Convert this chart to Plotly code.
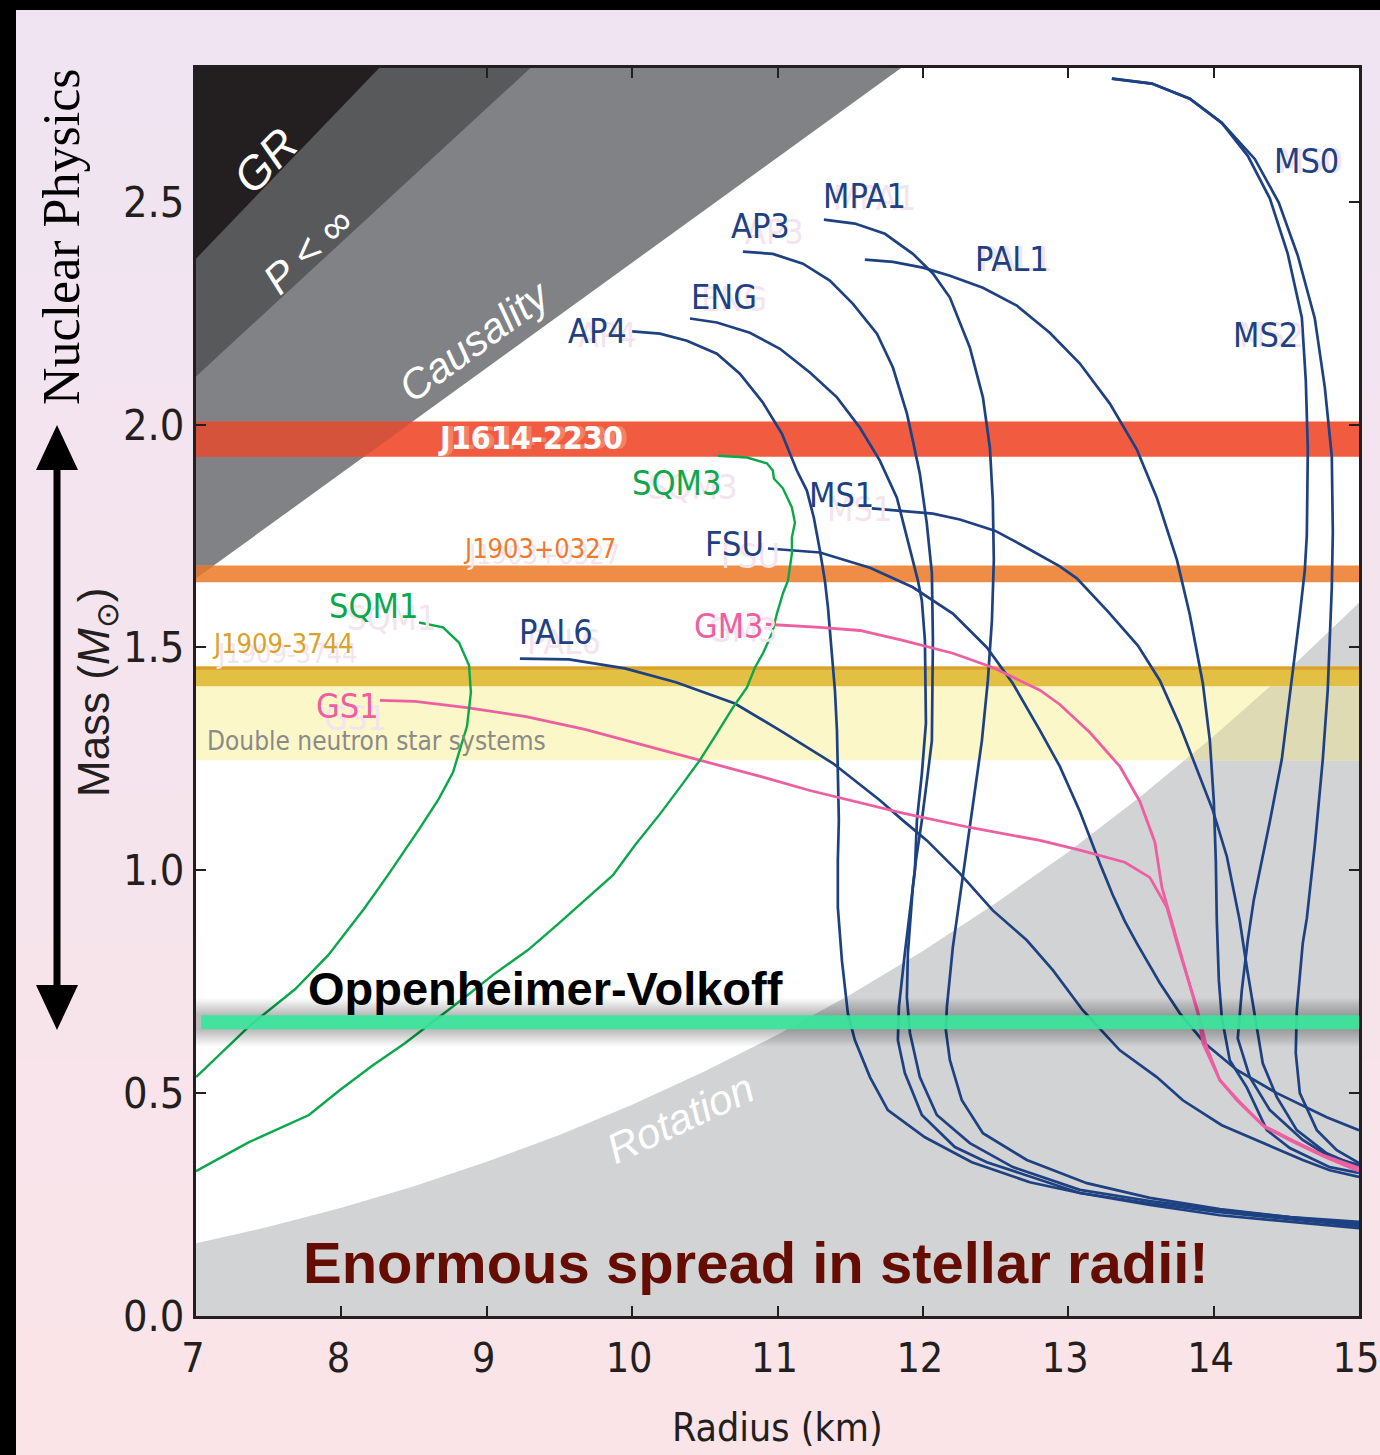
import numpy as np
import plotly.graph_objects as go

# ---------------------------------------------------------------------------
# Mass-radius relations: radius in km, gravitational mass in solar masses
# ---------------------------------------------------------------------------
AP4_R = [9.999, 10.191, 10.377, 10.583, 10.741, 10.900, 11.030, 11.133, 11.202, 11.250, 11.292,
         11.326, 11.347, 11.374, 11.395, 11.409, 11.415, 11.422, 11.415, 11.415, 11.443, 11.484,
         11.532, 11.636, 11.759, 12.014, 12.337, 12.736, 13.080, 13.561, 14.043, 14.524, 15.0]
AP4_M = [2.209, 2.204, 2.188, 2.159, 2.114, 2.049, 1.980, 1.897, 1.852, 1.791, 1.717,
         1.650, 1.590, 1.493, 1.404, 1.314, 1.217, 1.112, 1.022, 0.917, 0.798, 0.679,
         0.619, 0.536, 0.462, 0.401, 0.345, 0.300, 0.276, 0.249, 0.226, 0.211, 0.197]

ENG_R = [10.398, 10.583, 10.810, 11.017, 11.223, 11.409, 11.567, 11.704, 11.821, 11.911, 11.966,
         11.993, 12.014, 12.021, 11.993, 11.959, 11.945, 11.876, 11.835, 11.828, 11.876, 11.993,
         12.220, 12.440, 13.080, 13.561, 14.043, 14.524, 15.0]
ENG_M = [2.238, 2.229, 2.206, 2.170, 2.117, 2.061, 1.993, 1.919, 1.836, 1.724, 1.650,
         1.605, 1.516, 1.330, 1.217, 1.112, 1.000, 0.814, 0.693, 0.619, 0.545, 0.451,
         0.379, 0.345, 0.276, 0.253, 0.233, 0.217, 0.202]

AP3_R = [10.762, 10.968, 11.175, 11.360, 11.519, 11.684, 11.794, 11.890, 11.931, 11.979, 12.027,
         12.062, 12.069, 12.062, 12.034, 11.993, 11.952, 11.931, 11.897, 11.890, 11.911, 11.979,
         12.096, 12.323, 12.619, 13.080, 13.561, 14.043, 14.524, 15.0]
AP3_M = [2.388, 2.383, 2.361, 2.323, 2.271, 2.204, 2.128, 2.025, 1.964, 1.890, 1.778,
         1.666, 1.516, 1.291, 1.217, 1.112, 1.022, 0.962, 0.814, 0.715, 0.635, 0.536,
         0.451, 0.388, 0.334, 0.283, 0.258, 0.238, 0.222, 0.206]

MPA1_R = [11.319, 11.532, 11.739, 11.931, 12.069, 12.186, 12.323, 12.413, 12.461, 12.481, 12.488,
          12.475, 12.447, 12.406, 12.358, 12.309, 12.254, 12.206, 12.165, 12.158, 12.186, 12.268,
          12.413, 12.715, 13.128, 13.561, 14.043, 14.524, 15.0]
MPA1_M = [2.460, 2.451, 2.428, 2.383, 2.339, 2.285, 2.173, 2.061, 1.948, 1.830, 1.695,
          1.561, 1.426, 1.291, 1.179, 1.067, 0.944, 0.827, 0.693, 0.641, 0.574, 0.484,
          0.410, 0.350, 0.298, 0.265, 0.240, 0.222, 0.211]

PAL1_R = [11.601, 11.794, 12.000, 12.186, 12.413, 12.646, 12.873, 13.080, 13.286, 13.472, 13.609,
          13.747, 13.836, 13.926, 13.974, 14.001, 14.015, 14.022, 14.036, 14.056, 14.111, 14.228,
          14.366, 14.524, 14.799, 15.0]
PAL1_M = [2.370, 2.365, 2.352, 2.334, 2.307, 2.267, 2.206, 2.137, 2.047, 1.944, 1.836,
          1.697, 1.574, 1.419, 1.291, 1.157, 1.022, 0.886, 0.753, 0.670, 0.574, 0.513,
          0.417, 0.377, 0.334, 0.321]

MS1_R = [11.649, 11.842, 12.069, 12.254, 12.495, 12.701, 12.942, 13.059, 13.272, 13.479, 13.630,
         13.768, 13.905, 13.994, 14.091, 14.180, 14.228, 14.297, 14.338, 14.435, 14.572, 14.778, 15.0]
MS1_M = [1.812, 1.807, 1.800, 1.787, 1.762, 1.726, 1.682, 1.655, 1.581, 1.504, 1.426,
         1.325, 1.209, 1.135, 1.031, 0.886, 0.783, 0.648, 0.567, 0.491, 0.417, 0.365, 0.334]

FSU_R = [10.934, 11.292, 11.636, 11.931, 12.206, 12.440, 12.619, 12.805, 12.942, 13.080, 13.217,
         13.307, 13.389, 13.472, 13.630, 13.768, 13.939, 14.160, 14.435, 14.778, 15.0]
FSU_M = [1.722, 1.713, 1.679, 1.635, 1.576, 1.500, 1.419, 1.314, 1.233, 1.132, 1.016,
         0.944, 0.886, 0.836, 0.747, 0.679, 0.612, 0.552, 0.500, 0.446, 0.417]

MS0_R = [13.300, 13.575, 13.836, 14.056, 14.283, 14.448, 14.579, 14.696, 14.765, 14.813, 14.820,
         14.813, 14.785, 14.751, 14.696, 14.641, 14.613, 14.572, 14.565, 14.593, 14.710, 14.847, 15.0]
MS0_M = [2.776, 2.765, 2.731, 2.677, 2.596, 2.498, 2.379, 2.238, 2.083, 1.928, 1.758,
         1.635, 1.404, 1.249, 1.056, 0.892, 0.836, 0.686, 0.590, 0.500, 0.417, 0.372, 0.343]

MS2_R = [13.300, 13.575, 13.836, 14.056, 14.235, 14.387, 14.510, 14.607, 14.634, 14.648, 14.641,
         14.627, 14.593, 14.545, 14.469, 14.387, 14.304, 14.276, 14.235, 14.194, 14.166, 14.249,
         14.387, 14.613, 14.799, 15.0]
MS2_M = [2.776, 2.765, 2.731, 2.677, 2.603, 2.507, 2.383, 2.240, 2.099, 1.944, 1.751,
         1.673, 1.574, 1.448, 1.249, 1.110, 0.978, 0.933, 0.843, 0.731, 0.623, 0.536,
         0.462, 0.395, 0.357, 0.339]

PAL6_R = [9.228, 9.565, 9.950, 10.301, 10.707, 11.017, 11.381, 11.704, 11.862, 12.027, 12.254,
          12.481, 12.715, 12.894, 13.100, 13.355, 13.609, 13.788, 14.056, 14.338, 14.613, 14.799, 15.0]
PAL6_M = [1.475, 1.473, 1.453, 1.422, 1.374, 1.314, 1.240, 1.157, 1.112, 1.067, 0.993,
          0.910, 0.843, 0.776, 0.686, 0.596, 0.536, 0.484, 0.428, 0.388, 0.350, 0.327, 0.312]

GM3_R = [10.920, 11.292, 11.567, 11.862, 12.206, 12.481, 12.805, 12.942, 13.149, 13.355, 13.492,
         13.596, 13.644, 13.699, 13.768, 13.836, 13.891, 13.926, 14.043, 14.160, 14.338, 14.524,
         14.751, 15.0]
GM3_M = [1.552, 1.545, 1.538, 1.516, 1.487, 1.455, 1.404, 1.372, 1.309, 1.233, 1.155,
         1.063, 0.962, 0.899, 0.821, 0.742, 0.679, 0.612, 0.529, 0.484, 0.428, 0.397,
         0.361, 0.332]

GS1_R = [8.265, 8.506, 8.864, 9.270, 9.675, 10.088, 10.494, 10.900, 11.223, 11.498, 11.862,
         12.323, 12.805, 13.080, 13.389, 13.561, 13.678, 13.768, 13.884, 13.953, 14.043, 14.180,
         14.352, 14.538, 14.765, 15.0]
GS1_M = [1.381, 1.379, 1.365, 1.345, 1.316, 1.280, 1.244, 1.209, 1.179, 1.157, 1.128,
         1.096, 1.067, 1.045, 1.018, 0.984, 0.917, 0.814, 0.693, 0.603, 0.529, 0.480,
         0.424, 0.392, 0.357, 0.325]

SQM1_R = [8.534, 8.699, 8.809, 8.878, 8.891, 8.864, 8.768, 8.671, 8.534, 8.320, 8.155,
          7.908, 7.681, 7.365, 7.0]
SQM1_M = [1.556, 1.545, 1.511, 1.460, 1.399, 1.323, 1.220, 1.161, 1.092, 0.989, 0.913,
          0.809, 0.733, 0.650, 0.536]

SQM3_R = [10.590, 10.790, 10.927, 10.968, 10.975, 11.037, 11.099, 11.120, 11.099, 11.099, 11.072,
          11.037, 10.996, 10.962, 10.900, 10.845, 10.790, 10.693, 10.583, 10.466, 10.329, 10.191,
          10.019, 9.868, 9.675, 9.490, 9.283, 9.050, 8.850, 8.644, 8.437, 8.210, 7.990, 7.777,
          7.365, 7.179, 7.0]
SQM3_M = [1.930, 1.926, 1.913, 1.897, 1.879, 1.857, 1.814, 1.780, 1.747, 1.711, 1.650,
          1.621, 1.576, 1.531, 1.487, 1.455, 1.410, 1.365, 1.307, 1.247, 1.186, 1.126,
          1.056, 0.989, 0.933, 0.879, 0.821, 0.767, 0.715, 0.664, 0.612, 0.561, 0.507, 0.451,
          0.390, 0.357, 0.325]

# Excluded-region boundaries (radius km, mass M_sun)
GR_EDGE_R = [7.0, 8.26]
GR_EDGE_M = [2.372, 2.8]
PINF_EDGE_R = [7.0, 9.30]
PINF_EDGE_M = [2.108, 2.8]
CAUSAL_EDGE_R = [7.0, 11.85]
CAUSAL_EDGE_M = [1.655, 2.8]
ROT_EDGE_R = [7.0, 7.5, 8.0, 8.5, 9.0, 9.5, 10.0, 10.5, 11.0, 11.5, 12.0, 12.5, 13.0, 13.5, 14.0, 14.5, 15.0]
ROT_EDGE_M = [0.163, 0.200, 0.243, 0.291, 0.346, 0.406, 0.474, 0.549, 0.631, 0.721, 0.819,
              0.926, 1.041, 1.166, 1.301, 1.445, 1.600]

# Measured pulsar masses (lower, upper) in M_sun
J1614_BAND = [1.928, 2.007]
J1903_BAND = [1.646, 1.684]
J1909_BAND = [1.413, 1.457]
DNS_BAND = [1.247, 1.413]
OV_MASS = 0.659

X_TICKS = [7, 8, 9, 10, 11, 12, 13, 14, 15]
Y_TICKS = [0.0, 0.5, 1.0, 1.5, 2.0, 2.5]
Y_TICK_TEXT = ["0.0", "0.5", "1.0", "1.5", "2.0", "2.5"]

# ---------------------------------------------------------------------------
NARROW = "DejaVu Sans Condensed, Liberation Sans Narrow, Arial Narrow, sans-serif"
SANS = "Liberation Sans, Arial, Helvetica, sans-serif"
SERIF = "Liberation Serif, Times New Roman, serif"

BLUE = "#1E4182"
GREEN = "#0BA84B"
PINK = "#EE5FA1"
INK = "#231F20"
GHOST = "#F4E4EF"

W, H = 1380, 1455
ML, MR, MT, MB = 196, 21, 68, 139
PW, PH = W - ML - MR, H - MT - MB


def pxp(x, y):
    """Pixel position on the page -> paper coordinates."""
    return (x - ML) / PW, (H - MB - y) / PH


def poly_path(rs, ms):
    pts = " L ".join(f"{r},{m}" for r, m in zip(rs, ms))
    return "M " + pts + " Z"


shapes = []

# page background: soft vertical gradient with a dark border top and left
top_c = np.array([240, 228, 243])
bot_c = np.array([251, 228, 232])
n_bands = 48
for i in range(n_bands):
    c = top_c + (bot_c - top_c) * (i + 0.5) / n_bands
    y0 = i * H / n_bands
    y1 = (i + 1) * H / n_bands + 1
    x0p, y0p = pxp(0, y0)
    x1p, y1p = pxp(W, y1)
    shapes.append(dict(type="rect", xref="paper", yref="paper", x0=x0p, x1=x1p, y0=y1p, y1=y0p,
                       fillcolor=f"rgb({int(c[0])},{int(c[1])},{int(c[2])})", line_width=0, layer="below"))
for (xa, ya, xb, yb) in [(0, 0, W, 10), (0, 0, 16, H)]:
    x0p, y0p = pxp(xa, ya)
    x1p, y1p = pxp(xb, yb)
    shapes.append(dict(type="rect", xref="paper", yref="paper", x0=x0p, x1=x1p, y0=y1p, y1=y0p,
                       fillcolor="black", line_width=0, layer="below"))
shapes.append(dict(type="rect", xref="paper", yref="paper", x0=0, x1=1, y0=0, y1=1,
                   fillcolor="white", line_width=0, layer="below"))

# double-headed arrow on the left
ax_, ay0, ay1 = 57, 425, 1030
p0 = pxp(ax_, ay0 + 40)
p1 = pxp(ax_, ay1 - 40)
shapes.append(dict(type="line", xref="paper", yref="paper", x0=p0[0], y0=p0[1], x1=p1[0], y1=p1[1],
                   line=dict(color="black", width=7), layer="below"))
for tip, base in [(ay0, ay0 + 45), (ay1, ay1 - 45)]:
    a = pxp(ax_, tip)
    b = pxp(ax_ - 21, base)
    c = pxp(ax_ + 21, base)
    shapes.append(dict(type="path", xref="paper", yref="paper",
                       path=f"M {a[0]},{a[1]} L {b[0]},{b[1]} L {c[0]},{c[1]} Z",
                       fillcolor="black", line_width=0, layer="below"))

# excluded regions
rot_r = [7.0] + ROT_EDGE_R + [15.0]
rot_m = [0.0] + ROT_EDGE_M + [0.0]
shapes.append(dict(type="path", xref="x", yref="y", path=poly_path(rot_r, rot_m),
                   fillcolor="#D1D3D4", line_width=0, layer="below"))
for edge_r, edge_m, col in [(CAUSAL_EDGE_R, CAUSAL_EDGE_M, "#808285"),
                            (PINF_EDGE_R, PINF_EDGE_M, "#58595B"),
                            (GR_EDGE_R, GR_EDGE_M, "#231F20")]:
    shapes.append(dict(type="path", xref="x", yref="y",
                       path=poly_path([7.0] + edge_r, [2.8] + edge_m),
                       fillcolor=col, line_width=0, layer="below"))


def causal_r(m):
    return float(np.interp(m, CAUSAL_EDGE_M, CAUSAL_EDGE_R))


def hband(lo, hi, col):
    shapes.append(dict(type="rect", xref="x", yref="y", x0=7, x1=15, y0=lo, y1=hi,
                       fillcolor=col, line_width=0, layer="below"))


hband(DNS_BAND[0], DNS_BAND[1], "#FBF7C8")
hband(J1909_BAND[0], J1909_BAND[1], "#E3C044")
hband(J1909_BAND[1] - 0.007, J1909_BAND[1], "#D9A22B")
hband(J1903_BAND[0], J1903_BAND[1], "#EF8C46")
hband(J1614_BAND[0], J1614_BAND[1], "#F15B40")

# bands seen through the excluded regions
lo, hi = J1614_BAND
shapes.append(dict(type="path", xref="x", yref="y",
                   path=poly_path([7, causal_r(lo), causal_r(hi), 7], [lo, lo, hi, hi]),
                   fillcolor="#D5533A", line_width=0, layer="below"))
lo, hi = J1903_BAND
shapes.append(dict(type="path", xref="x", yref="y",
                   path=poly_path([7, causal_r(hi), 7], [CAUSAL_EDGE_M[0], hi, hi]),
                   fillcolor="#D57A3E", line_width=0, layer="below"))
lo, hi = DNS_BAND
r_lo = float(np.interp(lo, ROT_EDGE_M, ROT_EDGE_R))
r_hi = float(np.interp(hi, ROT_EDGE_M, ROT_EDGE_R))
inner = [(r, m) for r, m in zip(ROT_EDGE_R, ROT_EDGE_M) if lo < m < hi]
ov_r = [r_lo] + [p[0] for p in inner] + [r_hi, 15, 15]
ov_m = [lo] + [p[1] for p in inner] + [hi, hi, lo]
shapes.append(dict(type="path", xref="x", yref="y", path=poly_path(ov_r, ov_m),
                   fillcolor="#DEDAB4", line_width=0, layer="below"))

# Oppenheimer-Volkoff bar with a soft shadow (drawn over the curves)
for wdt in range(48, 15, -2):
    shapes.append(dict(type="line", xref="x", yref="y", x0=7.0, x1=15.0, y0=OV_MASS, y1=OV_MASS,
                       line=dict(color="rgba(0,0,0,0.014)", width=wdt), layer="above"))
shapes.append(dict(type="line", xref="x", yref="y", x0=7.035, x1=15.0, y0=OV_MASS, y1=OV_MASS,
                   line=dict(color="rgba(58,229,156,0.92)", width=14), layer="above"))

# ---------------------------------------------------------------------------
fig = go.Figure()

curves = [
    (AP4_R, AP4_M, BLUE, 2.7), (ENG_R, ENG_M, BLUE, 2.7), (AP3_R, AP3_M, BLUE, 2.7),
    (MPA1_R, MPA1_M, BLUE, 2.7), (PAL1_R, PAL1_M, BLUE, 2.7), (MS1_R, MS1_M, BLUE, 2.7),
    (FSU_R, FSU_M, BLUE, 2.7), (MS0_R, MS0_M, BLUE, 2.7), (MS2_R, MS2_M, BLUE, 2.7),
    (PAL6_R, PAL6_M, BLUE, 2.7),
    (GM3_R, GM3_M, PINK, 2.8), (GS1_R, GS1_M, PINK, 2.8),
    (SQM1_R, SQM1_M, GREEN, 2.4), (SQM3_R, SQM3_M, GREEN, 2.4),
]
for rs, ms, col, wdt in curves:
    fig.add_trace(go.Scatter(x=rs, y=ms, mode="lines", line=dict(color=col, width=wdt),
                             hoverinfo="skip", showlegend=False))

annotations = []
CENTER = dict(xanchor="center", yanchor="middle", showarrow=False)


def label(text, r, m, color, size, dx=0, dy=0, family=NARROW, ghost=GHOST, bold=False):
    t = f"<b>{text}</b>" if bold else text
    if ghost:
        annotations.append(dict(x=r, y=m, xref="x", yref="y", text=t, xshift=dx, yshift=-dy,
                                font=dict(family=family, size=size, color=ghost), **CENTER))
    annotations.append(dict(x=r, y=m, xref="x", yref="y", text=t,
                            font=dict(family=family, size=size, color=color), **CENTER))


label("MS0", 14.641, 2.592, BLUE, 34, 4, 0)
label("MPA1", 11.601, 2.513, BLUE, 34, 10, 2)
label("AP3", 10.886, 2.446, BLUE, 34, 14, 6)
label("PAL1", 12.612, 2.372, BLUE, 34, 4, 0)
label("ENG", 10.631, 2.287, BLUE, 34, 10, 2)
label("AP4", 9.765, 2.209, BLUE, 34, 10, 4)
label("MS2", 14.359, 2.200, BLUE, 34, 6, 0)
label("J1614-2230", 9.304, 1.969, "white", 32, 5, 0, bold=True, ghost="#F58068")
label("SQM3", 10.308, 1.868, GREEN, 34, 16, 4)
label("MS1", 11.443, 1.841, BLUE, 34, 18, 14)
label("FSU", 10.707, 1.733, BLUE, 34, 16, 12)
label("J1903+0327", 9.366, 1.722, "#EE7B2D", 27, 4, 6)
label("SQM1", 8.224, 1.592, GREEN, 34, 18, 12)
label("GM3", 10.666, 1.549, PINK, 34, 14, 4)
label("PAL6", 9.476, 1.534, BLUE, 34, 8, 10)
label("J1909-3744", 7.598, 1.509, "#D9A22B", 27, 4, 10)
label("GS1", 8.045, 1.368, PINK, 34, 8, 12)
label("Double neutron star systems", 8.245, 1.291, "#8A8A87", 26, ghost=None)

# region names
for text, r, m, ang, size in [("GR", 7.475, 2.592, -46, 46), ("P &lt; ∞", 7.770, 2.390, -43, 42),
                              ("Causality", 8.919, 2.188, -36, 42), ("Rotation", 10.329, 0.444, -25, 42)]:
    annotations.append(dict(x=r, y=m, xref="x", yref="y", text=f"<i>{text}</i>", textangle=ang,
                            font=dict(family=SANS, size=size, color="white"), **CENTER))

annotations.append(dict(x=9.407, y=0.735, xref="x", yref="y", text="<b>Oppenheimer-Volkoff</b>",
                        font=dict(family=SANS, size=47, color="black"), **CENTER))
annotations.append(dict(x=10.851, y=0.121, xref="x", yref="y", text="<b>Enormous spread in stellar radii!</b>",
                        font=dict(family=SANS, size=58, color="#650C03"), **CENTER))

# axis titles and side captions
p = pxp(777, 1428)
annotations.append(dict(x=p[0], y=p[1], xref="paper", yref="paper", text="Radius (km)",
                        font=dict(family=NARROW, size=39, color=INK), **CENTER))
p = pxp(97, 693)
annotations.append(dict(x=p[0], y=p[1], xref="paper", yref="paper", textangle=-90,
                        text="Mass (<i>M</i><sub>⊙</sub>)",
                        font=dict(family=SANS, size=44, color=INK), **CENTER))
p = pxp(62, 237)
annotations.append(dict(x=p[0], y=p[1], xref="paper", yref="paper", textangle=-90,
                        text="Nuclear Physics",
                        font=dict(family=SERIF, size=52, color="black"), **CENTER))

axis_common = dict(ticks="inside", ticklen=10, tickwidth=2, tickcolor=INK, showline=True,
                   linewidth=3, linecolor=INK, mirror="ticks", showgrid=False, zeroline=False,
                   fixedrange=True, ticklabeloverflow="allow", automargin=False)

fig.update_layout(
    width=W, height=H,
    margin=dict(l=ML, r=MR, t=MT, b=MB, pad=0, autoexpand=False),
    paper_bgcolor="#F5E4EC",
    plot_bgcolor="white",
    showlegend=False,
    shapes=shapes,
    annotations=annotations,
    xaxis=dict(range=[7, 15], tickvals=X_TICKS, ticklabelstandoff=4, ticklabelshift=-3,
               tickfont=dict(family=NARROW, size=41, color=INK), **axis_common),
    yaxis=dict(range=[0, 2.8], tickvals=Y_TICKS, ticktext=Y_TICK_TEXT, ticklabelstandoff=0,
               tickfont=dict(family=NARROW, size=43, color=INK), **axis_common),
)

fig.write_html("out.html")
